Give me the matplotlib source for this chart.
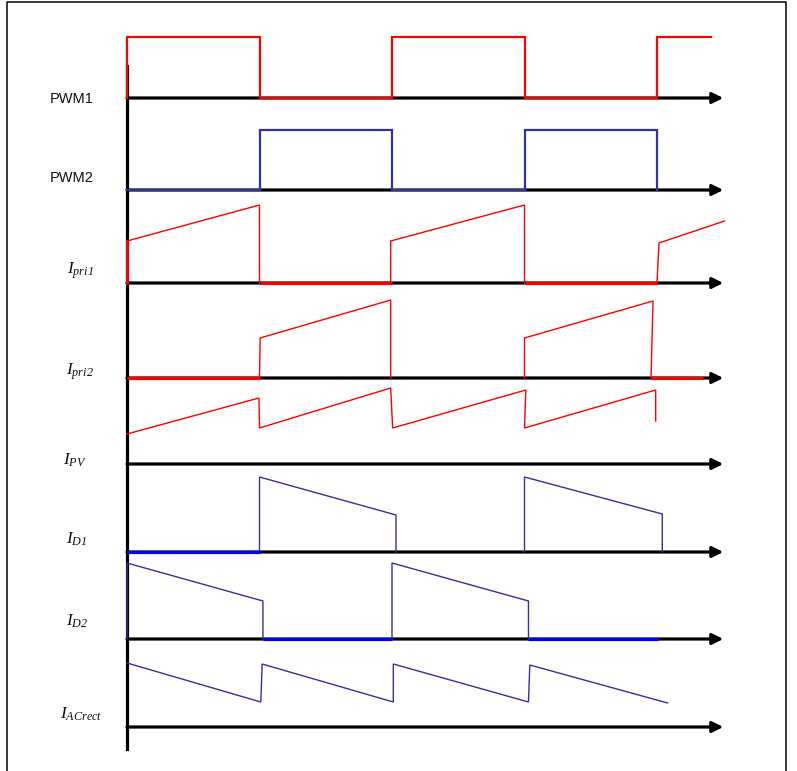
import numpy as np
import matplotlib.pyplot as plt

plt.rcParams['mathtext.fontset'] = 'custom'
plt.rcParams['mathtext.it'] = 'Liberation Serif:italic'
plt.rcParams['mathtext.rm'] = 'Liberation Serif:italic'

# time in half-periods, values in px above each channel baseline
labels = ['PWM1', 'PWM2', r'$I_{pri1}$', r'$I_{pri2}$',
          r'$I_{PV}$', r'$I_{D1}$', r'$I_{D2}$', r'$I_{ACrect}$']

pwm1_t = [0, 0, 1, 1, 2, 2, 3, 3, 4, 4, 4.41]
pwm1_v = [0, 61, 61, 0, 0, 61, 61, 0, 0, 61, 61]

pwm2_t = [0, 1, 1, 2, 2, 3, 3, 4, 4]
pwm2_v = [0, 0, 60, 60, 0, 0, 60, 60, 0]

ipri1_t = [0, 0, 1.0, 1.0, np.nan, 1.99, 1.99, 3.0, 3.0, np.nan, 4.0, 4.015, 4.51]
ipri1_v = [0, 42, 78, 0, np.nan, 0, 42, 78, 0, np.nan, 0, 40, 62]
ipri1_zero = [(1.0, 2.0), (3.0, 4.0)]

ipri2_t = [1.0, 1.005, 1.99, 1.99, np.nan, 3.0, 3.0, 3.97, 3.955]
ipri2_v = [0, 40, 78, 0, np.nan, 0, 40, 77, 0]
ipri2_zero = [(0, 1.0), (3.955, 4.35)]

ipv_t = [0, 0.996, 1.0, 1.99, 2.005, 3.01, 3.0, 3.99, 3.99]
ipv_v = [30, 66, 36, 76, 36, 74, 36, 74, 43]

id1_t = [1.0, 1.0, 2.03, 2.03, np.nan, 3.0, 3.0, 4.04, 4.04]
id1_v = [0, 75, 37, 0, np.nan, 0, 75, 38, 0]
id1_zero = [(0, 1.0)]

id2_t = [0, 0, 1.026, 1.026, np.nan, 2.0, 2.0, 3.03, 3.03]
id2_v = [0, 76, 38, 0, np.nan, 0, 76, 38, 0]
id2_zero = [(1.026, 2.0), (3.03, 4.01)]

iac_t = [0, 1.01, 1.02, 2.01, 2.01, 3.03, 3.04, 4.08]
iac_v = [64, 25, 63, 25, 63, 25, 62, 24]

# layout (pixels)
x0, dx = 127, 132.5
baselines = [98, 190, 283, 378, 464, 552, 639, 727]
label_pos = [(72, 99), (72, 178), (80, 271), (80, 372), (75, 460), (77, 539),
             (77, 621), (81, 714)]
red = '#ff0000'
navy = '#333399'
blue = '#0000ff'

fig = plt.figure(figsize=(7.97, 7.71), dpi=100)
ax = fig.add_axes([0, 0, 1, 1])
ax.set_xlim(-x0 / dx, (797 - x0) / dx)
ax.set_ylim(771, 0)
ax.axis('off')


def px(x):
    return (x - x0) / dx


# frame
ax.plot([px(7), px(7), px(786), px(786)], [771, 2, 2, 771], color='k', lw=1.1)

# axes
ax.plot([0, 0], [66, 749], color='k', lw=2.3, zorder=2)
for b in baselines:
    ax.annotate('', xy=(4.5, b), xytext=(0, b),
                arrowprops=dict(arrowstyle='-|>', color='k', lw=2.3,
                                mutation_scale=16, shrinkA=0, shrinkB=0),
                zorder=2)


def wave(t, v, b, color, lw):
    ax.plot(t, b - np.array(v), color=color, lw=lw, zorder=3,
            solid_joinstyle='miter')


def zeros(segs, b, color):
    for a, e in segs:
        ax.plot([a, e], [b, b], color=color, lw=2.3, zorder=3,
                solid_capstyle='butt')


wave(pwm1_t, pwm1_v, baselines[0], red, 1.6)
wave(pwm2_t, pwm2_v, baselines[1], navy, 1.6)
wave(ipri1_t, ipri1_v, baselines[2], red, 1.0)
zeros(ipri1_zero, baselines[2], red)
ax.plot([0, 0], [baselines[2], baselines[2] - ipri1_v[1]], color=red, lw=2.0, zorder=3)
wave(ipri2_t, ipri2_v, baselines[3], red, 1.0)
zeros(ipri2_zero, baselines[3], red)
wave(ipv_t, ipv_v, baselines[4], red, 1.0)
wave(id1_t, id1_v, baselines[5], navy, 1.0)
zeros(id1_zero, baselines[5], blue)
wave(id2_t, id2_v, baselines[6], navy, 1.0)
zeros(id2_zero, baselines[6], blue)
wave(iac_t, iac_v, baselines[7], navy, 1.0)

for lab, (lx, ly) in zip(labels, label_pos):
    if lab.startswith('PWM'):
        ax.text(px(lx), ly, lab, ha='center', va='center', fontsize=10.5,
                family='Liberation Sans', color='#111111')
    else:
        ax.text(px(lx), ly, lab, ha='center', va='center', fontsize=12.5,
                color='#111111')

fig.savefig('out.png', dpi=100)
